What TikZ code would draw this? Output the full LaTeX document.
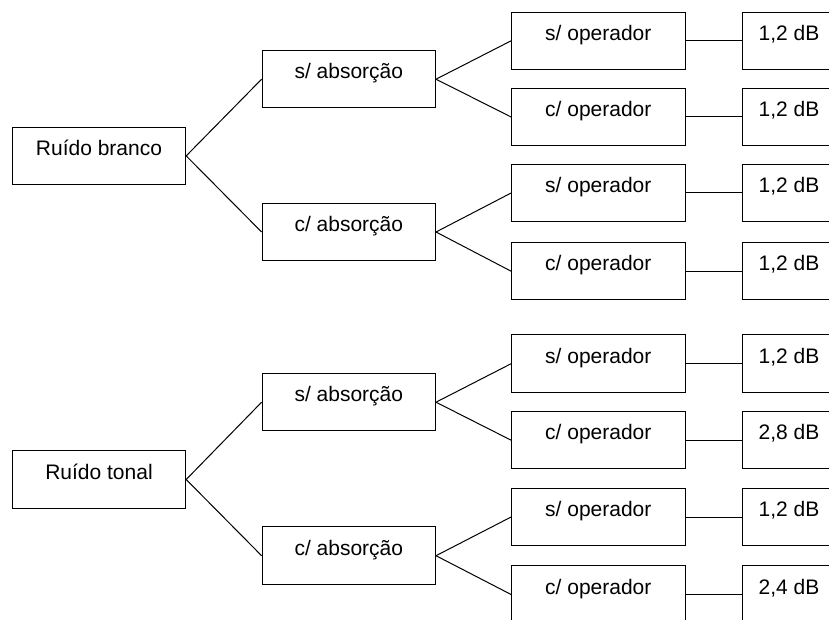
\documentclass[tikz,border=0pt]{standalone}
\usepackage{fontspec}
\setmainfont{Liberation Sans}
\usetikzlibrary{positioning}

\begin{document}
\begin{tikzpicture}[x = 1pt, y = -1pt,
  box/.style = {draw, line width = 1pt, minimum width = 173.4pt, minimum height = 57.5pt,
    inner sep = 0pt, text height = 15pt, text depth = 15.5pt,
    font = \fontsize{21}{24}\selectfont},
  dbbox/.style = {box, minimum width = 94pt},
  link/.style = {line width = 1pt}]
\useasboundingbox (0,0) rectangle (829,620);
% noise type
\node[box] (rb) at (99,155.9) {Ruído branco};
\node[box] (rt) at (99,479.5) {Ruído tonal};
% absorption
\node[box] (rbs) at (348.8,79.2) {s/ absorção};
\node[box] (rbc) at (348.8,232) {c/ absorção};
\node[box] (rts) at (348.8,402.2) {s/ absorção};
\node[box] (rtc) at (348.8,555.7) {c/ absorção};
% operator
\node[box] (rbss) at (598.3,40.8) {s/ operador};
\node[box] (rbsc) at (598.3,117) {c/ operador};
\node[box] (rbcs) at (598.3,193) {s/ operador};
\node[box] (rbcc) at (598.3,271.2) {c/ operador};
\node[box] (rtss) at (598.3,363.7) {s/ operador};
\node[box] (rtsc) at (598.3,440.2) {c/ operador};
\node[box] (rtcs) at (598.3,517) {s/ operador};
\node[box] (rtcc) at (598.3,594.5) {c/ operador};
% results
\node[dbbox] (rbssd) at (789,40.8) {1,2 dB};
\node[dbbox] (rbscd) at (789,117) {1,2 dB};
\node[dbbox] (rbcsd) at (789,193) {1,2 dB};
\node[dbbox] (rbccd) at (789,271.2) {1,2 dB};
\node[dbbox] (rtssd) at (789,363.7) {1,2 dB};
\node[dbbox] (rtscd) at (789,440.2) {2,8 dB};
\node[dbbox] (rtcsd) at (789,517) {1,2 dB};
\node[dbbox] (rtccd) at (789,594.5) {2,4 dB};
% connectors
\foreach \a/\b in {rb/rbs, rb/rbc, rt/rts, rt/rtc,
    rbs/rbss, rbs/rbsc, rbc/rbcs, rbc/rbcc,
    rts/rtss, rts/rtsc, rtc/rtcs, rtc/rtcc}
  \draw[link] (\a.east) -- (\b.west);
\foreach \a in {rbss, rbsc, rbcs, rbcc, rtss, rtsc, rtcs, rtcc}
  \draw[link] (\a.east) -- (\a d.west);
\end{tikzpicture}
\end{document}
